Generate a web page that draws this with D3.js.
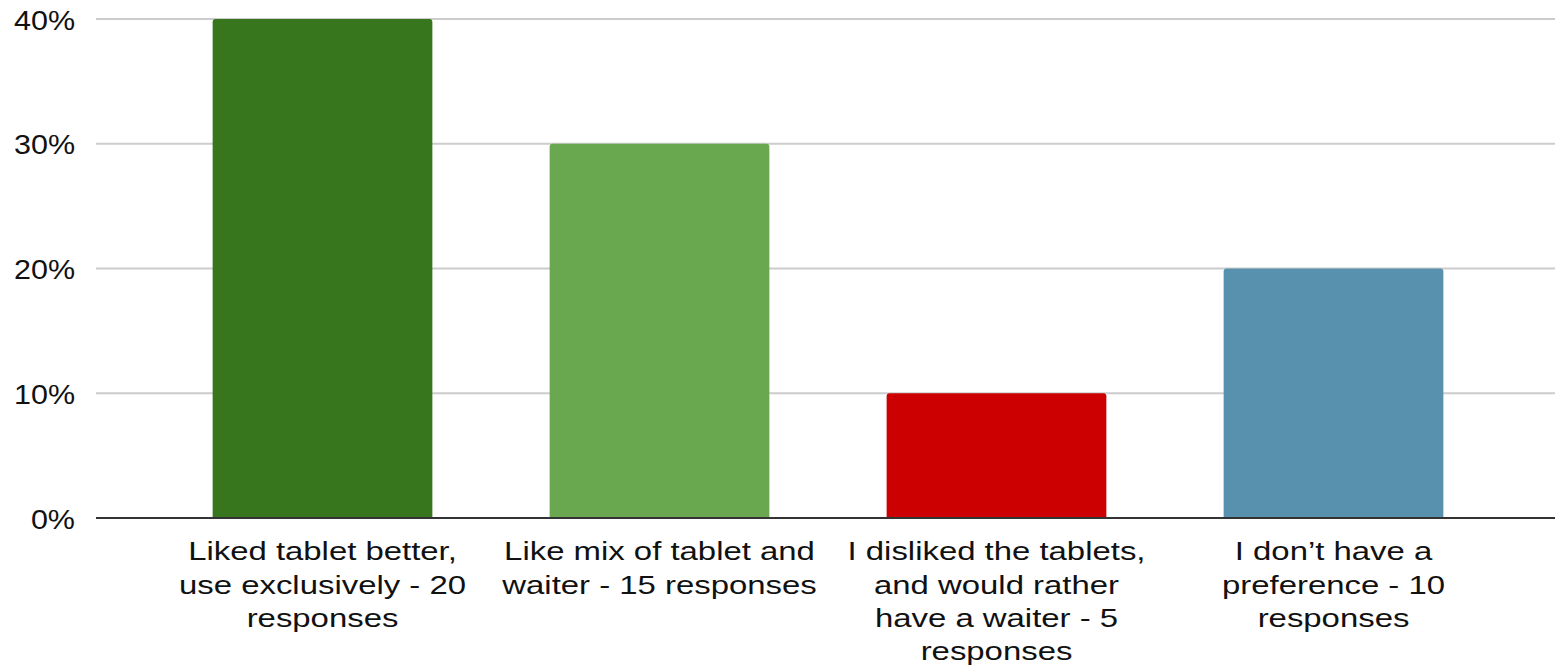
<!DOCTYPE html>
<html>
<head>
<meta charset="utf-8">
<script src="https://cdn.jsdelivr.net/npm/d3@7"></script>
<style>
  html, body { margin: 0; padding: 0; background: #fff; }
  svg { display: block; }
  text { font-family: "Liberation Sans", Arial, sans-serif; fill: #111; }
</style>
</head>
<body>
<svg id="chart" width="1555" height="669"></svg>
<script>
const categories = [
  "Liked tablet better, use exclusively - 20 responses",
  "Like mix of tablet and waiter - 15 responses",
  "I disliked the tablets, and would rather have a waiter - 5 responses",
  "I don\u2019t have a preference - 10 responses"
];
const labelLines = [
  ["Liked tablet better,", "use exclusively - 20", "responses"],
  ["Like mix of tablet and", "waiter - 15 responses"],
  ["I disliked the tablets,", "and would rather", "have a waiter - 5", "responses"],
  ["I don\u2019t have a", "preference - 10", "responses"]
];
const values = [0.40, 0.30, 0.10, 0.20];
const colors = ["#38761d", "#6aa84f", "#cc0000", "#5891ae"];
const yTicks = [0, 0.1, 0.2, 0.3, 0.4];

const svg = d3.select("#chart");
const gridLeft = 96, gridRight = 1555;

const x = d3.scaleBand()
  .domain(categories)
  .range([154, 1502])
  .paddingInner(0.348)
  .paddingOuter(0.174);

const y = d3.scaleLinear()
  .domain([0, 0.4])
  .range([518, 19]);

// gridlines
svg.append("g")
  .selectAll("line")
  .data(yTicks.filter(d => d > 0))
  .join("line")
  .attr("x1", gridLeft).attr("x2", gridRight)
  .attr("y1", d => y(d)).attr("y2", d => y(d))
  .attr("stroke", "#cccccc")
  .attr("stroke-width", 2);

// y axis labels
const yAxis = d3.axisLeft(y).tickValues(yTicks).tickFormat(d3.format(".0%")).tickSize(0).tickPadding(0);
const yg = svg.append("g").attr("transform", "translate(75,0)").call(yAxis);
yg.select(".domain").remove();
yg.selectAll(".tick text")
  .attr("font-size", 28)
  .attr("fill", "#111")
  .attr("font-family", "'Liberation Sans', Arial, sans-serif")
  .attr("dy", "0.36em")
  .attr("transform", "scale(1.09,1)");

// bars (slightly rounded top corners)
const r = 3;
svg.append("g")
  .selectAll("path")
  .data(categories)
  .join("path")
  .attr("fill", (d, i) => colors[i])
  .attr("d", (d, i) => {
    const x0 = x(d), x1 = x(d) + x.bandwidth();
    const yt = y(values[i]), yb = y(0);
    return `M${x0},${yb}V${yt + r}Q${x0},${yt} ${x0 + r},${yt}H${x1 - r}Q${x1},${yt} ${x1},${yt + r}V${yb}Z`;
  });

// baseline
svg.append("line")
  .attr("x1", gridLeft).attr("x2", gridRight)
  .attr("y1", y(0)).attr("y2", y(0))
  .attr("stroke", "#333333")
  .attr("stroke-width", 2);

// x labels
const xl = svg.append("g");
categories.forEach((c, i) => {
  const cx = x(c) + x.bandwidth() / 2;
  const t = xl.append("text")
    .attr("text-anchor", "middle")
    .attr("font-size", 25.5)
    .attr("transform", `translate(${cx},0) scale(1.29,1)`);
  labelLines[i].forEach((line, j) => {
    t.append("tspan")
      .attr("x", 0)
      .attr("y", 560.5 + j * 33.3)
      .text(line);
  });
});
</script>
</body>
</html>
